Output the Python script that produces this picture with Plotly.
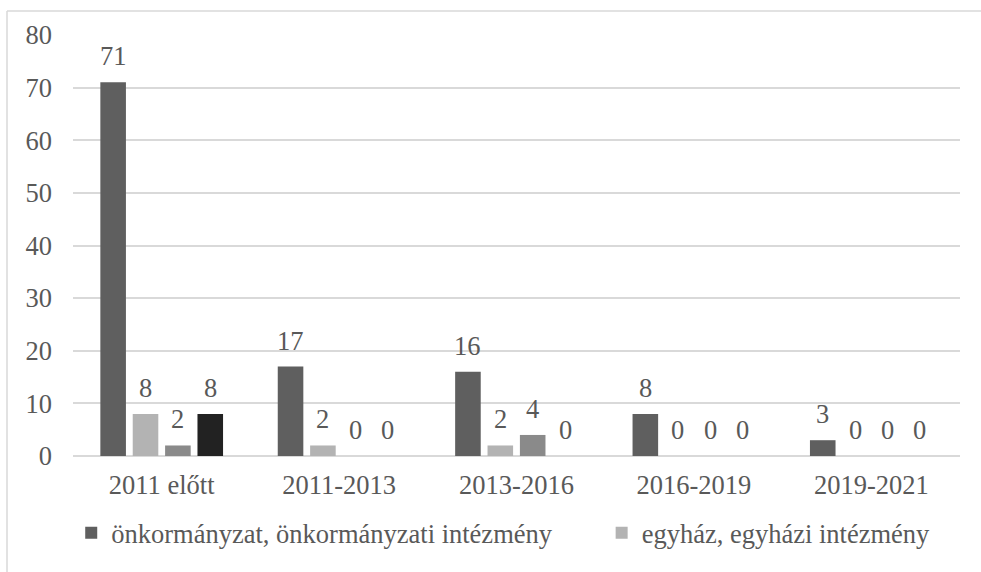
import plotly.graph_objects as go

categories = ["2011 előtt", "2011-2013", "2013-2016", "2016-2019", "2019-2021"]
series_names = ["önkormányzat, önkormányzati intézmény", "egyház, egyházi intézmény",
                "civil szervezet", "egyéb"]
onkormanyzat = [71, 17, 16, 8, 3]
egyhaz = [8, 2, 2, 0, 0]
civil = [2, 0, 4, 0, 0]
egyeb = [8, 0, 0, 0, 0]
y_ticks = [0, 10, 20, 30, 40, 50, 60, 70, 80]

series_values = [onkormanyzat, egyhaz, civil, egyeb]
colors = ["#5f5f5f", "#b3b3b3", "#8a8a8a", "#222222"]
legend_ids = ["legend", "legend2", None, None]

W, H = 981, 572
ML, MR, MT, MB = 73, 21, 35, 116
BARGAP, GROUPGAP = 0.27, 0.21
FONT = "Liberation Serif, Times New Roman, serif"
TXT = "#595959"
FS = 26.5
BORDER = "#d9d9d9"

fig = go.Figure()
for name, vals, col, lg in zip(series_names, series_values, colors, legend_ids):
    kw = dict(legend=lg, showlegend=True) if lg else dict(showlegend=False)
    fig.add_trace(go.Bar(x=categories, y=vals, name=name, marker_color=col,
                         marker_line_width=0, **kw))

plot_w = W - ML - MR
plot_h = H - MT - MB
slot = plot_w / len(categories) * (1 - BARGAP) / len(series_values)
annotations = []
for j, vals in enumerate(series_values):
    off = (j - (len(series_values) - 1) / 2) * slot
    for c, v in zip(categories, vals):
        annotations.append(dict(x=c, y=v, xref="x", yref="y", text=str(v),
                                showarrow=False, yanchor="bottom", xshift=off,
                                yshift=9, font=dict(family=FONT, size=FS, color=TXT)))

legend_style = dict(orientation="h", xanchor="left", yanchor="middle", y=-0.183,
                    font=dict(family=FONT, size=FS, color=TXT), itemwidth=30,
                    bgcolor="rgba(0,0,0,0)")

bx = (7 - ML) / plot_w
by = (H - MB - 11) / plot_h
fig.update_layout(
    width=W, height=H,
    margin=dict(l=ML, r=MR, t=MT, b=MB, autoexpand=False),
    paper_bgcolor="white", plot_bgcolor="white",
    barmode="group", bargap=BARGAP, bargroupgap=GROUPGAP,
    font=dict(family=FONT, size=FS, color=TXT),
    annotations=annotations,
    legend=dict(x=-0.002, **legend_style),
    legend2=dict(x=0.596, **legend_style),
    xaxis=dict(showgrid=False, showline=False, ticks="", ticklabelstandoff=10,
               tickfont=dict(family=FONT, size=FS, color=TXT)),
    yaxis=dict(range=[0, 80], tickvals=y_ticks, showgrid=True, gridcolor="#d9d9d9",
               gridwidth=1.5, zeroline=True, zerolinecolor="#d9d9d9", zerolinewidth=1.5,
               showline=False, ticks="", ticklabelstandoff=20,
               tickfont=dict(family=FONT, size=FS, color=TXT)),
    shapes=[
        dict(type="line", xref="paper", yref="paper", x0=bx, x1=1.2, y0=by, y1=by,
             line=dict(color=BORDER, width=1.5), layer="below"),
        dict(type="line", xref="paper", yref="paper", x0=bx, x1=bx, y0=-0.5, y1=by,
             line=dict(color=BORDER, width=1.5), layer="below"),
    ],
)

fig.write_html("out.html", config={"displayModeBar": False},
               post_script="document.body.style.margin='0';document.body.style.overflow='hidden';")
